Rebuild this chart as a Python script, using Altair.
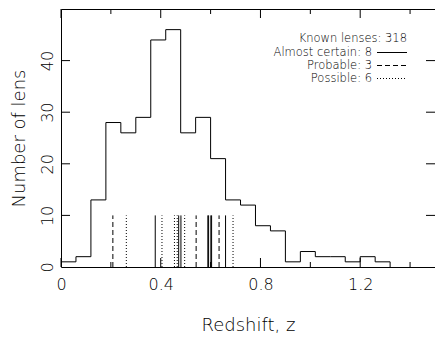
import altair as alt
import pandas as pd

# ---- data ----
bin_lo = [0.00, 0.06, 0.12, 0.18, 0.24, 0.30, 0.36, 0.42, 0.48, 0.54, 0.60, 0.66,
          0.72, 0.78, 0.84, 0.90, 0.96, 1.02, 1.08, 1.14, 1.20, 1.26, 1.32]
counts = [1, 2, 13, 28, 26, 29, 44, 46, 26, 29, 21, 13,
          12, 8, 7, 1, 3, 2, 2, 1, 2, 1, 0]

z_certain = [0.378, 0.472, 0.481, 0.589, 0.592, 0.601, 0.604, 0.660]
z_probable = [0.208, 0.542, 0.634]
z_possible = [0.262, 0.405, 0.455, 0.466, 0.496, 0.690]
n_known = 318
marker_height = 10

x_major = [0, 0.4, 0.8, 1.2]
x_minor = [0.2, 0.6, 1.0, 1.4]
y_major = [10, 20, 30, 40]
y_labels = [0, 10, 20, 30, 40]

legend_labels = [f"Known lenses: {n_known}",
                 f"Almost certain: {len(z_certain)}",
                 f"Probable: {len(z_probable)}",
                 f"Possible: {len(z_possible)}"]

# ---- layout ----
W, H = 374, 258
FONT = "DejaVu Sans"
WEIGHT = 200
TXT = "black"

xscale = alt.Scale(domain=[0, 1.5], nice=False, zero=False)
yscale = alt.Scale(domain=[0, 50], nice=False)

xaxis = alt.Axis(values=x_major, format="~g", ticks=False, domain=False, grid=False,
                 labelFont=FONT, labelFontSize=16, labelColor=TXT, labelPadding=9,
                 labelFontWeight=WEIGHT, labelFlush=False,
                 title="Redshift, z", titleFont=FONT, titleFontSize=18,
                 titleFontWeight=WEIGHT, titleColor=TXT,
                 titleX=W / 2, titleY=58, titleBaseline="middle", titleAlign="center")
yaxis = alt.Axis(values=y_labels, ticks=False, domain=False, grid=False,
                 labelFont=FONT, labelFontSize=16, labelColor=TXT,
                 labelFontWeight=WEIGHT,
                 labelAngle=270, labelAlign="center", labelBaseline="bottom",
                 labelPadding=6, labelFlush=False,
                 title="Number of lens", titleFont=FONT, titleFontSize=18,
                 titleFontWeight=WEIGHT, titleColor=TXT, titleAngle=270,
                 titleX=-42, titleY=H / 2, titleBaseline="middle", titleAlign="center")

hist_df = pd.DataFrame({"z": bin_lo, "n": counts})

hist = alt.Chart(hist_df).mark_line(
    interpolate="step-after", color="black", strokeWidth=1
).encode(
    x=alt.X("z:Q", scale=xscale, axis=xaxis),
    y=alt.Y("n:Q", scale=yscale, axis=yaxis),
)


def markers(vals, dash):
    df = pd.DataFrame({"z": vals, "y0": [0] * len(vals), "y1": [marker_height] * len(vals)})
    kw = dict(color="black", strokeWidth=1)
    if dash:
        kw["strokeDash"] = dash
    return alt.Chart(df).mark_rule(**kw).encode(
        x=alt.X("z:Q", scale=xscale, axis=xaxis),
        y=alt.Y("y0:Q", scale=yscale, axis=yaxis),
        y2="y1:Q",
    )


m_cert = markers(z_certain, None)
m_prob = markers(z_probable, [5, 3])
m_poss = markers(z_possible, [1, 2])


def xticks(vals, length):
    df = pd.DataFrame({"t": vals})
    bot = alt.Chart(df).mark_rule(color="black", strokeWidth=1).encode(
        x=alt.X("t:Q", scale=xscale, axis=xaxis),
        y=alt.value(H), y2=alt.value(H - length))
    top = alt.Chart(df).mark_rule(color="black", strokeWidth=1).encode(
        x=alt.X("t:Q", scale=xscale, axis=xaxis),
        y=alt.value(0), y2=alt.value(length))
    return [bot, top]


def yticks(vals, length):
    df = pd.DataFrame({"t": vals})
    left = alt.Chart(df).mark_rule(color="black", strokeWidth=1).encode(
        y=alt.Y("t:Q", scale=yscale, axis=yaxis),
        x=alt.value(0), x2=alt.value(length))
    right = alt.Chart(df).mark_rule(color="black", strokeWidth=1).encode(
        y=alt.Y("t:Q", scale=yscale, axis=yaxis),
        x=alt.value(W), x2=alt.value(W - length))
    return [left, right]


tick_layers = xticks(x_major, 9) + xticks(x_minor, 5) + yticks(y_major, 9)

# ---- legend (PGPLOT style: text then line sample) ----
one = alt.Data(values=[{"a": 1}])
leg_y = [29.5, 43.5, 56.5, 69.5]
leg_layers = []
leg_layers.append(
    alt.Chart(one).mark_text(align="right", baseline="middle", font=FONT,
                             fontSize=11.5, fontWeight=WEIGHT, color=TXT,
                             text=legend_labels[0])
    .encode(x=alt.value(346), y=alt.value(leg_y[0]))
)
for lab, yy, dash in zip(legend_labels[1:], leg_y[1:], [None, [5, 3], [1, 2]]):
    leg_layers.append(
        alt.Chart(one).mark_text(align="right", baseline="middle", font=FONT,
                                 fontSize=11.5, fontWeight=WEIGHT, color=TXT,
                                 text=lab)
        .encode(x=alt.value(311), y=alt.value(yy))
    )
    kw = dict(color="black", strokeWidth=1)
    if dash:
        kw["strokeDash"] = dash
    leg_layers.append(
        alt.Chart(one).mark_rule(**kw)
        .encode(x=alt.value(316), x2=alt.value(346), y=alt.value(yy))
    )

chart = alt.layer(
    hist, m_cert, m_prob, m_poss, *tick_layers, *leg_layers
).properties(
    width=W, height=H,
    autosize=alt.AutoSizeParams(type="none"),
    padding={"left": 53, "top": 1, "right": 0, "bottom": 68},
    background="white",
).configure_view(
    stroke="black", strokeWidth=1
)

chart.save("out.html", embed_options={"renderer": "svg", "actions": False})
